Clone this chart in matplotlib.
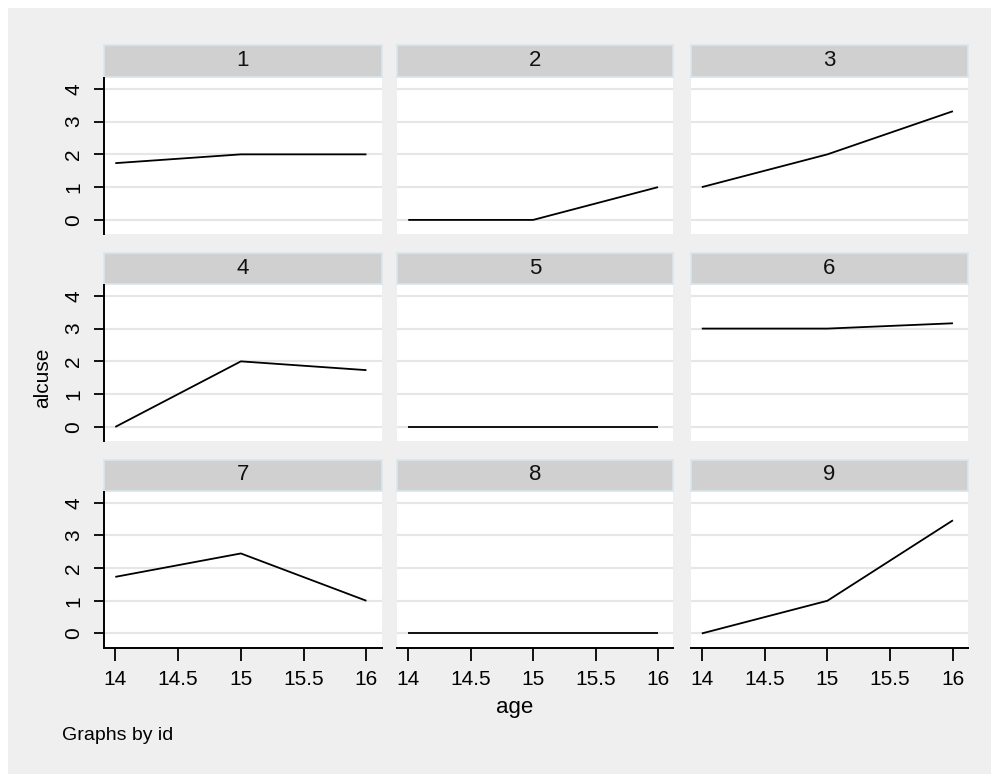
import matplotlib
matplotlib.use("Agg")
import matplotlib.pyplot as plt
from matplotlib.patches import Rectangle

plt.rcParams['font.family'] = ['Liberation Sans', 'DejaVu Sans']

# ---- data ----
ages = [14, 15, 16]
ids = ["1", "2", "3", "4", "5", "6", "7", "8", "9"]
alcuse_1 = [1.732, 2.0, 2.0]
alcuse_2 = [0.0, 0.0, 1.0]
alcuse_3 = [1.0, 2.0, 3.317]
alcuse_4 = [0.0, 2.0, 1.732]
alcuse_5 = [0.0, 0.0, 0.0]
alcuse_6 = [3.0, 3.0, 3.162]
alcuse_7 = [1.732, 2.449, 1.0]
alcuse_8 = [0.0, 0.0, 0.0]
alcuse_9 = [0.0, 1.0, 3.464]
series = [alcuse_1, alcuse_2, alcuse_3, alcuse_4, alcuse_5,
          alcuse_6, alcuse_7, alcuse_8, alcuse_9]
y_ticks = [0, 1, 2, 3, 4]
x_ticks = [14, 14.5, 15, 15.5, 16]
x_ticklabels = ["14", "14.5", "15", "15.5", "16"]

W, H = 991, 774
fig = plt.figure(figsize=(W / 100, H / 100), dpi=100)
fig.patch.set_facecolor('white')

BG = '#efefef'
fig.add_artist(Rectangle((8 / W, 0), 1 - 8 / W, 1 - 8 / H, transform=fig.transFigure,
                         facecolor=BG, edgecolor='none', zorder=-10))


def box(x0, y0, x1, y1):
    return [x0 / W, 1 - y1 / H, (x1 - x0) / W, (y1 - y0) / H]


cols = [(104, 381.5), (397, 673), (690.5, 968)]
rows = [((45, 76.5), (78, 234)), ((252.5, 283.5), (285, 441)), ((459.5, 490.5), (492, 647.5))]

for i, (lab, vals) in enumerate(zip(ids, series)):
    r, c = divmod(i, 3)
    (sx0, sx1) = cols[c]
    (st0, st1), (py0, py1) = rows[r]
    # strip
    sax = fig.add_axes(box(sx0, st0, sx1, st1))
    sax.set_facecolor('#d0d0d0')
    for sp in sax.spines.values():
        sp.set_color('#d9e6ee')
        sp.set_linewidth(1.2)
    sax.set_xticks([])
    sax.set_yticks([])
    sax.text(0.5, 0.5, lab, ha='center', va='center', fontsize=16,
             transform=sax.transAxes, color='#111111')
    # plot
    ax = fig.add_axes(box(sx0, py0, sx1, py1))
    ax.set_facecolor('white')
    ax.plot(ages, vals, color='black', lw=1.3, solid_capstyle='butt')
    ax.set_xlim(13.91, 16.12)
    ax.set_ylim(-0.43, 4.33)
    ax.set_yticks(y_ticks)
    ax.set_xticks(x_ticks)
    ax.grid(axis='y', color='#e6e6e6', lw=1.5)
    ax.grid(axis='x', visible=False)
    ax.set_axisbelow(True)
    for sp in ['top', 'right']:
        ax.spines[sp].set_visible(False)
    ax.spines['left'].set_visible(c == 0)
    ax.spines['bottom'].set_visible(r == 2)
    ax.spines['left'].set_linewidth(1.4)
    ax.spines['bottom'].set_linewidth(1.4)
    if c == 0:
        ax.tick_params(axis='y', length=7, width=1.3, pad=8, labelsize=15,
                       direction='out')
        for t in ax.get_yticklabels():
            t.set_rotation(90)
            t.set_va('center')
    else:
        ax.tick_params(axis='y', length=0, labelleft=False)
    if r == 2:
        ax.set_xticklabels(x_ticklabels)
        ax.tick_params(axis='x', length=9, width=1.3, pad=7, labelsize=15,
                       direction='out')
    else:
        ax.tick_params(axis='x', length=0, labelbottom=False)

fig.text(43 / W, 1 - 378 / H, 'alcuse', rotation=90, ha='center', va='center',
         fontsize=15)
fig.text(515 / W, 1 - 708 / H, 'age', ha='center', va='center', fontsize=16)
fig.text(62 / W, 1 - 735 / H, 'Graphs by id', ha='left', va='center', fontsize=14)

fig.savefig('out.png', dpi=100, facecolor=fig.get_facecolor())
